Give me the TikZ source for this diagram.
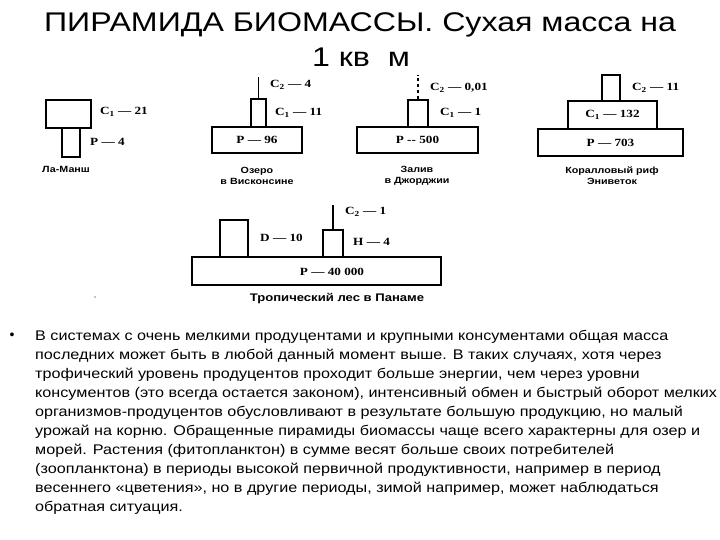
\documentclass[tikz,border=0pt]{standalone}
\usepackage{fontspec}
\setmainfont{Liberation Sans}
\newfontfamily\labfont[FakeStretch=1.2]{Liberation Serif}
\newfontfamily\widefont[FakeStretch=1.19]{Liberation Sans}
\newfontfamily\bodyfont[FakeStretch=1.155]{Liberation Sans}
\usetikzlibrary{positioning}

\begin{document}
\begin{tikzpicture}[x=1pt, y=-1pt,
  blk/.style={draw, line width=1.4pt, fill=white, inner sep=0pt},
  val/.style={font=\labfont\bfseries\fontsize{11}{13}\selectfont, inner sep=0pt, anchor=west},
  inval/.style={font=\labfont\bfseries\fontsize{11}{13}\selectfont, inner sep=0pt},
  sitecap/.style={font=\widefont\bfseries\fontsize{9}{11}\selectfont, align=center, inner sep=0pt},
  stem/.style={line width=1.4pt},
]
\useasboundingbox (0,0) rectangle (720,540);

% ===== title =====
\node[font=\widefont\fontsize{27}{32}\selectfont, anchor=base] (title) at (360,32) {ПИРАМИДА БИОМАССЫ. Сухая масса на};
\node[font=\widefont\fontsize{27}{32}\selectfont, anchor=base] (title2) at (361,67) {1 кв\ \ м};

% ===== Ла-Манш =====
\node[blk, minimum width=45pt, minimum height=28pt] (lmC1) at (68.5,114) {};
\node[blk, minimum width=18pt, minimum height=29pt] (lmP) at (71,142.5) {};
\node[val] (lmC1v) at (100,112) {C\textsubscript{1} — 21};
\node[val] (lmPv) at (90,142) {P — 4};
\node[sitecap] (lmcap) at (66,169) {Ла-Манш};

% ===== Озеро в Висконсине =====
\node[blk, minimum width=90pt, minimum height=26pt] (ozP) at (257,140) {};
\node[blk, minimum width=15pt, minimum height=28pt] (ozC1) at (258.5,113) {};
\coordinate (ozTip) at (258.5,77);
\draw[stem] (ozC1.north) -- (ozTip);
\node[inval] (ozPv) at (ozP) {P — 96};
\node[val] (ozC1v) at (275,113) {C\textsubscript{1} — 11};
\node[val] (ozC2v) at (270,85) {C\textsubscript{2} — 4};
\node[sitecap] (ozcap) at (257,176) {Озеро\\в Висконсине};

% ===== Залив в Джорджии =====
\node[blk, minimum width=121pt, minimum height=26pt] (zaP) at (417.5,140) {};
\node[blk, minimum width=20pt, minimum height=27pt] (zaC1) at (418,113.5) {};
\coordinate (zaTip) at (418,75);
\draw[stem, dashed] (zaC1.north) -- (zaTip);
\node[inval] (zaPv) at (zaP) {P -{}- 500};
\node[val] (zaC1v) at (440,113) {C\textsubscript{1} — 1};
\node[val] (zaC2v) at (430,88) {C\textsubscript{2} — 0,01};
\node[sitecap] (zacap) at (417,176) {Залив\\в Джорджии};

% ===== Коралловый риф =====
\node[blk, minimum width=145pt, minimum height=27pt] (krP) at (610.5,142.5) {};
\node[blk, minimum width=89pt, minimum height=28pt] (krC1) at (612.5,115) {};
\node[blk, minimum width=18pt, minimum height=26pt] (krC2) at (611,88) {};
\node[inval] (krPv) at (krP) {P — 703};
\node[inval] (krC1v) at (krC1) {C\textsubscript{1} — 132};
\node[val] (krC2v) at (632,88) {C\textsubscript{2} — 11};
\node[sitecap] (krcap) at (612,176) {Коралловый риф\\Эниветок};

% ===== Тропический лес в Панаме =====
\node[blk, minimum width=249pt, minimum height=28pt] (paP) at (316.5,271) {};
\node[blk, minimum width=28pt, minimum height=37pt] (paD) at (234,238.5) {};
\node[blk, minimum width=20pt, minimum height=27pt] (paH) at (333,243.5) {};
\coordinate (paTip) at (333,205);
\draw[stem] (paH.north) -- (paTip);
\node[inval] (paPv) at (332,272) {P — 40 000};
\node[val] (paDv) at (260,238) {D — 10};
\node[val] (paHv) at (353,242) {H — 4};
\node[val] (paC2v) at (345,212) {C\textsubscript{2} — 1};
\node[sitecap, font=\widefont\bfseries\fontsize{11}{12}\selectfont] (pacap) at (337,299) {Тропический лес в Панаме};
\fill (95,297) circle (0.7pt);

% ===== text =====
\node[font=\fontsize{14}{16}\selectfont] (bul) at (12,336) {•};
\node[anchor=north west, inner sep=0pt, align=left, font=\bodyfont\fontsize{14}{19}\selectfont] (body) at (35,330)
  {В системах с очень мелкими продуцентами и крупными консументами общая масса\\
   последних может быть в любой данный момент выше. В таких случаях, хотя через\\
   трофический уровень продуцентов проходит больше энергии, чем через уровни\\
   консументов (это всегда остается законом), интенсивный обмен и быстрый оборот мелких\\
   организмов-продуцентов обусловливают в результате большую продукцию, но малый\\
   урожай на корню. Обращенные пирамиды биомассы чаще всего характерны для озер и\\
   морей. Растения (фитопланктон) в сумме весят больше своих потребителей\\
   (зоопланктона) в периоды высокой первичной продуктивности, например в период\\
   весеннего «цветения», но в другие периоды, зимой например, может наблюдаться\\
   обратная ситуация.};

\end{tikzpicture}
\end{document}
